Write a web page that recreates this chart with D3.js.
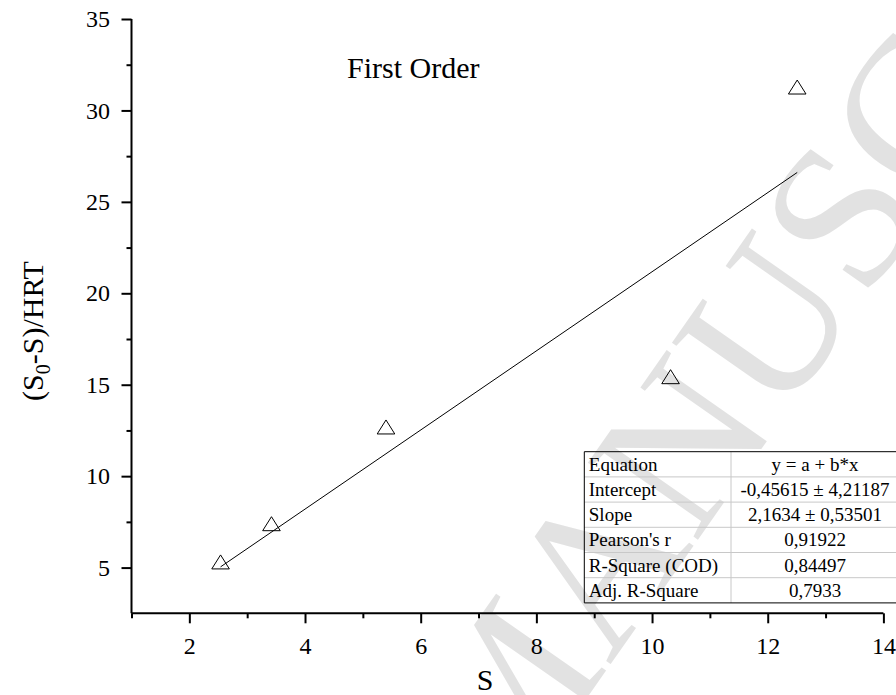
<!DOCTYPE html>
<html>
<head>
<meta charset="utf-8">
<script src="https://cdn.jsdelivr.net/npm/d3@7"></script>
<style>
  body { margin: 0; background: #fff; }
  svg { display: block; }
  svg text { font-family: "Liberation Serif", "Times New Roman", serif; }
</style>
</head>
<body>
<svg id="chart" width="896" height="695"></svg>
<script>
// measured points
var sValues = [2.54, 3.42, 5.40, 10.32, 12.51];
var rateValues = [5.31, 7.40, 12.69, 15.44, 31.28];

// fit result from the table
var intercept = -0.45615;
var slope = 2.1634;

var xMajor = [2, 4, 6, 8, 10, 12, 14];
var xMinor = [1, 3, 5, 7, 9, 11, 13];
var yMajor = [5, 10, 15, 20, 25, 30, 35];
var yMinor = [7.5, 12.5, 17.5, 22.5, 27.5, 32.5];

var tableLabels = ['Equation', 'Intercept', 'Slope', "Pearson's r", 'R-Square (COD)', 'Adj. R-Square'];
var tableValues = ['y = a + b*x', '-0,45615 \u00b1 4,21187', '2,1634 \u00b1 0,53501', '0,91922', '0,84497', '0,7933'];

var svg = d3.select('#chart');

var x = d3.scaleLinear().domain([1, 14]).range([131.5, 883.4]);
var y = d3.scaleLinear().domain([2.5, 35]).range([613.3, 19]);

// faint watermark behind everything
svg.append('text')
  .attr('transform', 'translate(505,815) rotate(-55)')
  .attr('font-size', 205)
  .attr('fill', '#e2e2e2')
  .text('MANUSCRIPT');

// axes
var xAxis = svg.append('g')
  .attr('transform', 'translate(0,' + y.range()[0] + ')')
  .call(d3.axisBottom(x).tickValues(xMajor).tickSize(10).tickFormat(d3.format('d')));
xAxis.selectAll('text').attr('y', 41).attr('dy', 0);

svg.append('g')
  .attr('transform', 'translate(0,' + y.range()[0] + ')')
  .call(d3.axisBottom(x).tickValues(xMinor).tickSize(5).tickFormat(''))
  .select('.domain').remove();

var yAxis = svg.append('g')
  .attr('transform', 'translate(' + x.range()[0] + ',0)')
  .call(d3.axisLeft(y).tickValues(yMajor).tickSize(10).tickPadding(11.5).tickFormat(d3.format('d')));

svg.append('g')
  .attr('transform', 'translate(' + x.range()[0] + ',0)')
  .call(d3.axisLeft(y).tickValues(yMinor).tickSize(5).tickFormat(''))
  .select('.domain').remove();

svg.selectAll('g')
  .attr('font-family', '"Liberation Serif", "Times New Roman", serif')
  .attr('font-size', 24);
svg.selectAll('.domain').attr('stroke-width', 2);
svg.selectAll('.tick line').attr('stroke-width', 2);
svg.selectAll('.tick text').attr('fill', '#000');
// no outer end ticks
xAxis.select('.domain').attr('d', 'M' + x.range()[0] + ',0H' + x.range()[1]);
yAxis.select('.domain').attr('d', 'M0,' + y.range()[0] + 'V' + y.range()[1]);

// fit line over the data range
var xExt = d3.extent(sValues);
var line = d3.line().x(function (d) { return x(d); }).y(function (d) { return y(intercept + slope * d); });
svg.append('path')
  .attr('d', line(xExt))
  .attr('fill', 'none')
  .attr('stroke', '#000')
  .attr('stroke-width', 1);

// open triangles
var tri = d3.path();
tri.moveTo(0, -7); tri.lineTo(8.8, 7); tri.lineTo(-8.8, 7); tri.closePath();
svg.selectAll('.pt')
  .data(sValues)
  .enter()
  .append('path')
  .attr('class', 'pt')
  .attr('d', tri.toString())
  .attr('transform', function (d, i) { return 'translate(' + x(d) + ',' + y(rateValues[i]) + ')'; })
  .attr('fill', 'none')
  .attr('stroke', '#000')
  .attr('stroke-width', 1);

// titles
svg.append('text').attr('x', 347).attr('y', 78).attr('font-size', 30).text('First Order');

svg.append('text')
  .attr('x', 485).attr('y', 690)
  .attr('text-anchor', 'middle')
  .attr('font-size', 30)
  .text('S');

var yLab = svg.append('text')
  .attr('transform', 'translate(43,331) rotate(-90)')
  .attr('text-anchor', 'middle')
  .attr('font-size', 30);
yLab.append('tspan').text('(S');
yLab.append('tspan').attr('font-size', 20).attr('dy', 7).text('0');
yLab.append('tspan').attr('dy', -7).text('-S)/HRT');

// stats table
var tLeft = 584.3, tTop = 451.7, tMid = 731, tRight = 899, rowH = 25.2;
var table = svg.append('g').attr('font-size', 19);
tableLabels.forEach(function (lab, i) {
  var top = tTop + i * rowH;
  if (i > 0) {
    table.append('line')
      .attr('x1', tLeft).attr('x2', tRight).attr('y1', top).attr('y2', top)
      .attr('stroke', '#c8c8c8');
  }
  table.append('text').attr('x', tLeft + 4.5).attr('y', top + 19).text(lab);
  table.append('text').attr('x', (tMid + tRight) / 2).attr('y', top + 19)
    .attr('text-anchor', 'middle').text(tableValues[i]);
});
var tBottom = tTop + tableLabels.length * rowH;
table.append('line').attr('x1', tMid).attr('x2', tMid).attr('y1', tTop).attr('y2', tBottom).attr('stroke', '#c8c8c8');
table.append('path')
  .attr('d', 'M' + tRight + ',' + tTop + 'H' + tLeft + 'V' + tBottom + 'H' + tRight)
  .attr('fill', 'none')
  .attr('stroke', '#000');
</script>
</body>
</html>
